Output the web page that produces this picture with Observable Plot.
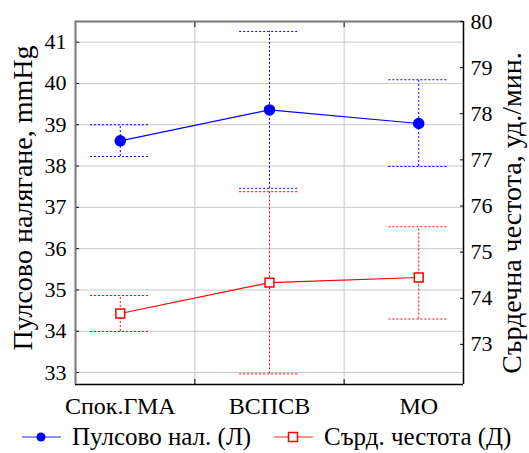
<!DOCTYPE html>
<html><head><meta charset="utf-8">
<script src="https://cdn.jsdelivr.net/npm/d3@7"></script>
<script src="https://cdn.jsdelivr.net/npm/@observablehq/plot@0.6"></script>
<style>
body{margin:0;background:#fff;}
#wrap{position:relative;width:529px;height:420px;}
#wrap svg{position:absolute;left:0;top:0;}
#legend{position:relative;width:529px;height:33px;color:#000;}
#legend .item{position:absolute;top:0;height:33px;display:flex;align-items:center;white-space:nowrap;}
#legend svg{margin-right:11px;}
</style></head><body>
<div id="wrap"></div>
<div id="legend"></div>
<script>
// ---- data ----
const categories = ["Спок.ГМА", "ВСПСВ", "МО"];
const pulseMean = [38.61, 39.36, 39.03];
const pulseLow  = [38.23, 37.46, 37.99];
const pulseHigh = [39.00, 41.26, 40.09];
const hrMean = [73.67, 74.34, 74.45];
const hrLow  = [73.28, 72.36, 73.55];
const hrHigh = [74.06, 76.31, 75.55];
const leftTicks = [33, 34, 35, 36, 37, 38, 39, 40, 41];
const rightTicks = [73, 74, 75, 76, 77, 78, 79, 80];
const leftTitle = "Пулсово налягане, mmHg";
const rightTitle = "Сърдечна честота, уд./мин.";
const legendPulse = "Пулсово нал. (Л)";
const legendHr = "Сърд. честота (Д)";

// ---- layout ----
const W = 529, H = 420;
const margins = {marginTop: 21, marginRight: 66, marginBottom: 36, marginLeft: 75};
const xDomain = [-0.3, 2.3];
const leftDomain = [32.71, 41.5];
const rightDomain = [72.13, 80];
const catIdx = categories.map((_, i) => i);
const gridXs = [0.5, 1.5];
const capHalf = 0.2;
const BLUE = "#0000ff", RED = "#ff0000";
const tickFont = 22, catFont = 24, titleFont = 28, legendFont = 25;
const FONT = "'Liberation Serif', serif";

const pulse = categories.map((c, i) => ({i, mean: pulseMean[i], lo: pulseLow[i], hi: pulseHigh[i]}));
const hr = categories.map((c, i) => ({i, mean: hrMean[i], lo: hrLow[i], hi: hrHigh[i]}));

function errorMarks(data, color) {
  return [
    Plot.ruleX(data, {x: "i", y1: "lo", y2: "hi", stroke: color, strokeDasharray: "2,2", strokeWidth: 1}),
    Plot.ruleY(data, {y: "hi", x1: d => d.i - capHalf, x2: d => d.i + capHalf, stroke: color, strokeDasharray: "2,2", strokeWidth: 1}),
    Plot.ruleY(data, {y: "lo", x1: d => d.i - capHalf, x2: d => d.i + capHalf, stroke: color, strokeDasharray: "2,2", strokeWidth: 1})
  ];
}

const p1 = Plot.plot({
  width: W, height: H, ...margins,
  style: {fontFamily: FONT, fontSize: tickFont + "px", background: "white", color: "black"},
  x: {type: "linear", domain: xDomain},
  y: {type: "linear", domain: leftDomain},
  marks: [
    Plot.gridY(leftTicks, {stroke: "#c8c8c8", strokeOpacity: 1}),
    Plot.gridX(gridXs, {stroke: "#c8c8c8", strokeOpacity: 1}),
    Plot.axisY(leftTicks, {anchor: "left", tickSize: 0, tickPadding: 9, label: null, fontSize: tickFont}),
    Plot.axisY(leftTicks, {anchor: "left", tickSize: -4, tickFormat: () => "", label: null}),
    Plot.axisX(catIdx, {anchor: "bottom", tickSize: 0, tickPadding: 12, tickFormat: i => categories[i], label: null, fontSize: catFont}),
    Plot.axisX(gridXs, {anchor: "bottom", tickSize: -5, tickFormat: () => "", label: null}),
    Plot.axisX(gridXs, {anchor: "top", tickSize: -5, tickFormat: () => "", label: null}),
    Plot.text([leftTitle], {frameAnchor: "left", textAnchor: "middle", rotate: -90, dx: -52, dy: -5, fontSize: titleFont, fill: "black"}),
    Plot.ruleY([leftDomain[0]], {stroke: "black", strokeWidth: 1.5}),
    Plot.ruleY([leftDomain[1]], {stroke: "#777", strokeWidth: 2}),
    Plot.ruleX([xDomain[0]], {stroke: "#777", strokeWidth: 2}),
    Plot.ruleX([xDomain[1]], {stroke: "black", strokeWidth: 1.5}),
    ...errorMarks(pulse, BLUE),
    Plot.line(pulse, {x: "i", y: "mean", stroke: BLUE, strokeWidth: 1.2}),
    Plot.dot(pulse, {x: "i", y: "mean", r: 5, fill: BLUE, stroke: BLUE})
  ]
});

const p2 = Plot.plot({
  width: W, height: H, ...margins,
  style: {fontFamily: FONT, fontSize: tickFont + "px", background: "transparent", color: "black"},
  x: {type: "linear", domain: xDomain, axis: null},
  y: {type: "linear", domain: rightDomain},
  marks: [
    Plot.axisY(rightTicks, {anchor: "right", tickSize: 0, tickPadding: 7, label: null, fontSize: tickFont}),
    Plot.axisY(rightTicks, {anchor: "right", tickSize: -4, tickFormat: () => "", label: null}),
    Plot.text([rightTitle], {frameAnchor: "right", textAnchor: "middle", rotate: -90, dx: 49, dy: 10, fontSize: titleFont, fill: "black"}),
    ...errorMarks(hr, RED),
    Plot.line(hr, {x: "i", y: "mean", stroke: RED, strokeWidth: 1.2}),
    Plot.dot(hr, {x: "i", y: "mean", r: 5, symbol: "square", fill: "white", stroke: RED, strokeWidth: 1.5})
  ]
});

for (const svg of [p1, p2]) {
  svg.querySelectorAll("g, text").forEach(el => {
    el.removeAttribute("font-family");
    el.removeAttribute("font-variant");
    el.style.fontFamily = FONT;
  });
}

const wrap = document.getElementById("wrap");
wrap.appendChild(p1);
wrap.appendChild(p2);

// ---- legend ----
const legend = document.getElementById("legend");
function item(left, label, color, lineColor, square) {
  const div = document.createElement("div");
  div.className = "item";
  div.style.left = left + "px";
  const sym = square
    ? `<rect x="14.5" y="6.5" width="9" height="9" fill="white" stroke="${color}" stroke-width="1.5"/>`
    : `<circle cx="19" cy="11" r="4.5" fill="${color}"/>`;
  div.innerHTML = `<svg width="39" height="22"><line x1="0" x2="39" y1="11" y2="11" stroke="${lineColor}" stroke-width="1.5"/>${sym}</svg><span></span>`;
  const span = div.querySelector("span");
  span.textContent = label;
  span.style.font = `${legendFont}px 'Liberation Serif', serif`;
  legend.appendChild(div);
}
item(22, legendPulse, BLUE, "#6b6bff", false);
item(274, legendHr, RED, "#ff6b6b", true);
</script>
</body></html>
